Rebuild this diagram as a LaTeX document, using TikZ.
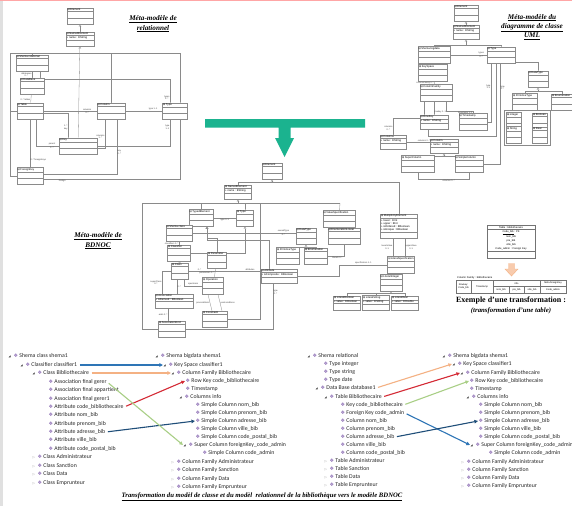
\documentclass[tikz,border=0pt]{standalone}
\usepackage{fontspec}
\setmainfont{Liberation Serif}
\newfontfamily\umlfont{Liberation Sans}
\newfontfamily\treefont{Carlito}
\newfontfamily\symfont{DejaVu Sans}
\usepackage{xcolor}
\usepackage{tikz}
\usetikzlibrary{arrows.meta,positioning,calc,fit,backgrounds,shapes.multipart}
\definecolor{umlgray}{HTML}{8A8A8A}
\definecolor{bigarrow}{HTML}{1BB38F}
\definecolor{treeicon}{HTML}{8C6DB4}
\definecolor{morange}{HTML}{F4B183}
\definecolor{mred}{HTML}{D42A35}
\definecolor{mgreen}{HTML}{A9CF86}
\definecolor{mblue}{HTML}{2E75B6}
\definecolor{mnavy}{HTML}{1F4E79}
\definecolor{peach}{HTML}{F8CBAD}
\newcommand\ci{{\symfont\char"229F}\,}
\newcommand\uc[2]{\ci#1\nodepart{two}#2\nodepart{three}}
\newcommand\trx{\makebox[5pt][l]{\symfont\fontsize{2.8}{3}\selectfont\char"25E2}}
\newcommand\trc{\makebox[5pt][l]{\textcolor{black!40}{\symfont\fontsize{3.2}{3}\selectfont\char"25B7}}}
\newcommand\tri{\textcolor{treeicon}{\symfont\fontsize{5}{5}\selectfont\char"2756}\hspace{1.4pt}}
\tikzset{
  umlc/.style={rectangle split,rectangle split parts=3,
    rectangle split ignore empty parts=false,rectangle split empty part height=1.8pt,
    rectangle split part align=left,draw=umlgray,line width=0.3pt,fill=white,
    inner sep=0.7pt,minimum width=#1,align=left,
    font=\umlfont\fontsize{2.7}{3.1}\selectfont},
  umlc/.default=24pt,
  assoc/.style={draw=umlgray,line width=0.3pt},
  gen/.style={assoc,-{Triangle[open,length=2.2pt,width=2.6pt]}},
  role/.style={font=\umlfont\fontsize{2.2}{2.5}\selectfont,inner sep=0.4pt,align=center,text=black!75},
  mtitle/.style={font=\bfseries\itshape\fontsize{7.2}{9.3}\selectfont,align=center},
  item/.style={anchor=west,inner sep=0.4pt,text=black!85,font=\treefont\fontsize{5.8}{6.5}\selectfont},
  map/.style={line width=1.1pt,-{Triangle[length=3.6pt,width=3.4pt]},shorten <=2pt},
  cell/.style={draw=black!55,line width=0.3pt,inner sep=0pt,align=center,
    font=\umlfont\fontsize{2.4}{2.8}\selectfont},
}

\begin{document}
\begin{tikzpicture}[x=1pt,y=-1pt]
  \useasboundingbox (0,0) rectangle (572,506);
  \begin{scope}[on background layer]
    \fill[white] (0,0) rectangle (572,506);
    \fill[black!12] (0,0) rectangle (2.5,506);
    \fill[red!35] (0,0) rectangle (572,1.2);
  \end{scope}

  % --- meta-model of the relational schema ---
  \node[mtitle] (tRel) at (153,24) {\underline{Méta-modèle de}\\\underline{relationnel}};
  \node[umlc=26pt] (rEl) at (80,16) {\uc{Element}{}};
  \node[umlc=28pt] (rNE) at (80,39) {\uc{NamedElement}{+ name : EString}};
  \node[umlc=32pt] (rSh) at (32,63) {\uc{Shema relational}{}};
  \node[umlc=24pt] (rDB) at (32,86) {\uc{DataBase}{}};
  \node[umlc=26pt] (rTab) at (30,111) {\uc{Table}{}};
  \node[umlc=28pt] (rCol) at (111,111) {\uc{Column}{}};
  \node[umlc=25pt] (rTy) at (175,111) {\uc{Type}{}};
  \node[umlc=38pt] (rKey) at (78,146) {\uc{Key}{}};
  \node[umlc=26pt] (rFK) at (30,176) {\uc{ForeignKey}{}};
  \coordinate (rBus) at (80,53);
  \coordinate (rBL) at (10,53);
  \coordinate (rBR) at (180,53);
  \begin{scope}[on background layer]
    \draw[gen] (rNE) -- (rEl);
    \draw[gen] (rKey) -- (rNE);
    \draw[assoc] (rBL) -- (rBR);
    \draw[assoc] (rSh) |- (rBus);
    \draw[assoc] (rCol) |- (rBus);
    \draw[assoc] (rTab.west) -| (rBL);
    \draw[assoc] (rFK.west) -| (rBL);
    \draw[assoc] (rBR) |- ([yshift=-3pt]rFK.east) node[role,pos=0.93,below]{foreign};
    \draw[assoc] (rSh) -- (rDB) node[role,pos=0.55,left]{databases\\0..*};
    \draw[assoc] (rDB) -- (rTab) node[role,pos=0.7,left]{0..* tables};
    \draw[assoc] ([xshift=8pt]rSh.south) -- ++(0,8) -| ([xshift=-5pt]rTy.north) node[role,pos=0.9,left]{types\\0..*};
    \draw[assoc] (rTab) -- (rCol) node[role,pos=0.82,above]{columns} node[role,pos=0.82,below]{0..*};
    \draw[assoc] (rCol) -- (rTy) node[role,pos=0.75,above]{type 1..1};
    \draw[assoc] ([yshift=-2pt]rTab.east) -| ([xshift=-10pt]rKey.north) node[role,pos=0.8,left]{1..*\\key};
    \draw[assoc] ([xshift=6pt]rTab.south) |- (rKey.west) node[role,pos=0.85,above]{parent} node[role,pos=0.85,below]{1..*};
    \draw[assoc] ([xshift=-6pt]rCol.south) |- ([yshift=-2pt]rKey.east) node[role,pos=0.3,left]{columns\\1..*};
    \draw[assoc] ([xshift=6pt]rCol.south) |- ([yshift=2pt]rFK.east) node[role,pos=0.3,right]{key\\0..*};
    \draw[assoc] ([xshift=-5pt]rTy.south) |- (rKey.east) node[role,pos=0.15,left]{type\\1..1};
    \draw[assoc] (rTab) -- (rFK) node[role,pos=0.85,right]{0..* foreignKeys};
  \end{scope}

  % --- meta-model of the UML class diagram ---
  \node[mtitle] (tUml) at (532,27) {\underline{Méta-modèle du}\\\underline{diagramme de classe}\\\underline{UML}};
  \node[umlc=24pt] (uEl) at (466,13) {\uc{Element}{}};
  \node[umlc=26pt] (uNE) at (466,32) {\uc{NamedElement}{+ name : EString}};
  \node[umlc=32pt] (uSh) at (434,55) {\uc{Shema bigdata}{}};
  \node[umlc=28pt] (uTy) at (501,55) {\uc{Type}{}};
  \node[umlc=29pt] (uKS) at (433,73) {\uc{KeySpace}{}};
  \node[umlc=32pt] (uCF) at (436,93) {\uc{ColumnFamily}{}};
  \node[umlc=28pt] (uRK) at (434,122) {\uc{RowKey}{+ name : EString}};
  \node[umlc=28pt] (uTS) at (473,122) {\uc{Timestamp}{}};
  \node[umlc=26pt] (uCs) at (393,142) {\uc{Columns}{+ name : EString}};
  \node[umlc=28pt] (uCo) at (444,146) {\uc{Column}{+ name : EString}};
  \node[umlc=33pt] (uSup) at (418,164) {\uc{SuperColumn}{}};
  \node[umlc=28pt] (uSim) at (469,164) {\uc{SimpleColumn}{}};
  \node[umlc=20pt] (uDT) at (538,79) {\uc{DataType}{}};
  \node[umlc=25pt] (uPT) at (525,102) {\uc{PrimitiveType}{}};
  \node[umlc=21pt] (uEn) at (562,102) {\uc{Enumeration}{}};
  \node[umlc=15pt] (uInt) at (514,121) {\uc{integer}{}};
  \node[umlc=15pt] (uBo) at (540,121) {\uc{Boolean}{}};
  \node[umlc=15pt] (uStr) at (514,135) {\uc{String}{}};
  \node[umlc=15pt] (uRe) at (540,135) {\uc{Real}{}};
  \coordinate (uBus) at (466,45);
  \coordinate (uDb) at (538,91);
  \coordinate (uCb) at (444,156);
  \begin{scope}[on background layer]
    \node[fit=(uInt)(uRe),draw=umlgray,line width=0.3pt,inner sep=2pt] (uLit) {};
    \draw[gen] (uNE) -- (uEl);
    \draw[gen] (uBus) -- (uNE);
    \draw[assoc] (uSh) |- (uBus);
    \draw[assoc] (uTy) |- (uBus);
    \draw[assoc] (uSh) -- (uTy) node[role,pos=0.85,above]{types} node[role,pos=0.85,below]{0..*};
    \draw[assoc] (uSh) -- (uKS) node[role,midway,left]{keyspaces 0..*};
    \draw[assoc] (uKS) -- (uCF) node[role,midway,left]{columnFamily 0..*};
    \draw[assoc] (uRK.north) -- (uRK.north |- uCF.south) node[role,pos=0.2,right]{rowkey 1..1};
    \draw[assoc] ([xshift=10pt]uCF.south) -- ++(0,10) -| (uTS.north) node[role,pos=0.8,left]{timestamp 1..1};
    \draw[assoc] ([xshift=-12pt]uCF.south) -- ++(0,17) -| (uCs.north) node[role,pos=0.8,left]{columns\\0..*};
    \draw[assoc] (uCs.east) -- (uCs.east -| uCo.west) node[role,pos=0.75,above]{columns 0..*};
    \draw[gen] (uCb) -- (uCo);
    \draw[assoc] (uSup) |- (uCb);
    \draw[assoc] (uSim) |- (uCb);
    \draw[assoc] (uSup.south) -- ++(0,7) -| (uSim.south) node[role,pos=0.3,below]{columns 0..*};
    \draw[assoc] ([xshift=-10pt]uTy.south) |- (uTS.east) node[role,pos=0.2,left]{type\\1..1};
    \draw[assoc] ([xshift=-5pt]uTy.south) -- ++(0,73) -| ([xshift=-6pt]uRK.south);
    \draw[assoc] ([xshift=-1pt]uTy.south) |- (uSim.east) node[role,pos=0.12,right]{type\\0..*};
    \draw[gen] (uDT.north) -- ++(0,-8) -| ([xshift=9pt]uTy.south);
    \draw[gen] (uDb) -- (uDT);
    \draw[assoc] (uPT) |- (uDb);
    \draw[assoc] (uEn) |- (uDb);
    \draw[gen] (uLit) -- (uPT);
  \end{scope}

  % --- transformation arrow ---
  \fill[bigarrow] (205,119) -- (365,119) -- (365,127.5) -- (290.5,127.5) -- (290.5,138)
    -- (294,138) -- (284.5,157) -- (275,138) -- (278.5,138) -- (278.5,127.5) -- (205,127.5) -- cycle;

  % --- meta-model of BDNOC ---
  \node[mtitle] (tBd) at (98,241) {\underline{Méta-modèle de}\\\underline{BDNOC}};
  \node[umlc=20pt] (bEl) at (272,171) {\uc{Element}{}};
  \node[umlc=27pt] (bNE) at (238,192) {\uc{NamedElement}{+ name : EString}};
  \node[umlc=24pt] (bTE) at (201,218) {\uc{TypedElement}{}};
  \node[umlc=17pt] (bTy) at (245,218) {\uc{Type}{}};
  \node[umlc=32pt] (bVS) at (339,219) {\uc{ValueSpecification}{}};
  \node[umlc=26pt] (bSh) at (179,233) {\uc{Shema class}{}};
  \node[umlc=20pt] (bDT) at (306,236) {\uc{DataType}{}};
  \node[umlc=32pt] (bEL) at (344,236) {\uc{EnumerationLiteral}{}};
  \node[umlc=23pt] (bCl) at (179,253) {\uc{Classifier}{}};
  \node[umlc=23pt] (bPT) at (288,256) {\uc{PrimitiveType}{}};
  \node[umlc=23pt] (bEn) at (316,256) {\uc{Enumeration}{}};
  \node[umlc=19pt] (bPa) at (217,260) {\uc{Parameter}{}};
  \node[umlc=17pt] (bCla) at (180,271) {\uc{Class}{}};
  \node[umlc=36pt] (bAt) at (279,276) {\uc{Attribute}{+ isComposite : EBoolean}};
  \node[umlc=21pt] (bOp) at (213,286) {\uc{Operation}{}};
  \node[umlc=38pt] (bAs) at (174,301) {\uc{Association}{+ isDerived : EBoolean}};
  \node[umlc=25pt] (bCo) at (215,319) {\uc{Constraint}{}};
  \node[umlc=27pt] (bAE) at (172,329) {\uc{AssociationEnd}{}};
  \node[umlc=37pt] (bME) at (399,226) {\uc{MultiplicityElement}{+ lower : EInt\\+ upper : EInt\\+ isOrdered : EBoolean\\+ isUnique : EBoolean}};
  \node[umlc=22pt] (bLS) at (401,265) {\uc{LiteralSpecification}{}};
  \node[umlc=22pt] (bIL) at (391,283) {\uc{LiteralInteger}{}};
  \node[umlc=27pt] (bLB) at (347,303) {\uc{LiteralBoolean}{+ value : EBoolean}};
  \node[umlc=27pt] (bLSt) at (376,303) {\uc{LiteralString}{+ value : EString}};
  \node[umlc=27pt] (bLI) at (405,303) {\uc{LiteralReal}{+ value : EDouble}};
  \coordinate (bTop) at (272,182);
  \coordinate (bBus) at (238,203);
  \coordinate (bL) at (142,203);
  \coordinate (bR) at (340,203);
  \coordinate (bV) at (260,203);
  \coordinate (bDb) at (306,247);
  \coordinate (bLb) at (391,293);
  \begin{scope}[on background layer]
    \draw[gen] (bTop) -- (bEl);
    \draw[assoc] (bNE) |- (bTop);
    \draw[assoc] (bME) |- (bTop);
    \draw[gen] (bBus) -- (bNE);
    \draw[assoc] (bL) -- (bR);
    \draw[assoc] (bR) -- (bVS);
    \draw[assoc] (bTE) |- (bBus);
    \draw[assoc] (bTy) |- (bBus);
    \draw[assoc] (bL) |- (bAE.west);
    \draw[assoc] (bV) |- (bCo.east);
    \draw[assoc] (bTE) -- (bTy) node[role,midway,below]{type 0..1};
    \draw[gen] (bCl.east) -| (bTy);
    \draw[gen] (bPa.north) -- ++(0,-14) -| ([xshift=6pt]bTE.south);
    \draw[gen] ([xshift=-10pt]bAt.north) -- ++(0,-29) -| ([xshift=6pt]bTE.south);
    \draw[assoc] (bSh.east) -- (bSh.east -| bDT.west) node[role,pos=0.88,above]{ownedType} node[role,pos=0.88,below]{0..*};
    \draw[gen] (bDb) -- (bDT);
    \draw[assoc] (bPT) |- (bDb);
    \draw[assoc] (bEn) |- (bDb);
    \draw[gen] (bEL) -- (bVS);
    \draw[assoc] (bEL.south) |- (bEn.east) node[role,pos=0.7,below]{literals 0..*};
    \draw[assoc] (bSh) -- (bCl) node[role,pos=0.6,left]{classifiers 0..*};
    \draw[gen] (bCla) -- (bCl);
    \draw[assoc] (bCla.east) -- (bCla.east -| bAt.west) node[role,pos=0.15,above]{0..*} node[role,pos=0.85,above]{attributes};
    \draw[assoc] ([xshift=4pt]bCla.south) |- (bOp.west) node[role,pos=0.75,above]{operations};
    \draw[assoc] (bOp) -- (bPa) node[role,midway,left]{parameters 0..*};
    \draw[assoc] ([xshift=-5pt]bOp.south) -- ([xshift=-3pt]bCo.north) node[role,pos=0.5,left]{preconditions};
    \draw[assoc] ([xshift=5pt]bOp.south) -- ([xshift=7pt]bCo.north) node[role,pos=0.5,right]{postconditions};
    \draw[assoc] ([xshift=-3pt]bCla.south) -- ([xshift=3pt]bAs.north) node[role,pos=0.5,right]{0..*};
    \draw[assoc] (bCla.west) -| ([xshift=-12pt]bAs.north) node[role,pos=0.75,left]{superClass\\0..*};
    \draw[assoc] ([xshift=-6pt]bAs.south) -- ([xshift=-4pt]bAE.north) node[role,pos=0.5,left]{ends 2..*};
    \draw[assoc] (bAE.east) -| ([xshift=-6pt]bAt.south) node[role,pos=0.9,right]{type\\0..*};
    \draw[assoc] (bAt.east) -- ++(42,0) |- (bLS.west) node[role,pos=0.75,above]{specification 1..1};
    \draw[assoc] ([xshift=-6pt]bME.south) -- ([xshift=-8pt]bLS.north) node[role,pos=0.5,left]{lowerValue\\0..1};
    \draw[assoc] ([xshift=6pt]bME.south) -- ([xshift=4pt]bLS.north) node[role,pos=0.5,right]{upperValue\\0..1};
    \draw[gen] (bIL.north) -- (bIL.north |- bLS.south);
    \draw[gen] (bLb) -- (bIL);
    \draw[assoc] (bLB) |- (bLb);
    \draw[assoc] (bLSt) |- (bLb);
    \draw[assoc] (bLI) |- (bLb);
  \end{scope}

  % --- example: one table ---
  \node[rectangle split,rectangle split parts=3,rectangle split ignore empty parts=false,
    rectangle split empty part height=3pt,draw=black!55,line width=0.3pt,fill=white,
    minimum width=48pt,inner sep=1pt,align=center,anchor=north,
    font=\umlfont\fontsize{2.6}{3.9}\selectfont] (exTab) at (511,225)
    {Table : bibliothecaire\nodepart{two}\underline{Code\_bib} : PK\\nom\_bib\\pre\_bib\\ville\_bib\\Code\_admin : Foreign Key\nodepart{three}};
  \filldraw[fill=peach,draw=morange,line width=0.4pt] (508.5,263.5) -- (514.5,263.5) -- (514.5,269)
    -- (518,269) -- (511.5,276) -- (505,269) -- (508.5,269) -- cycle;
  \node[anchor=west,inner sep=0pt,font=\umlfont\fontsize{2.6}{3}\selectfont] (cfLab) at (457,277.5) {Column Family : bibliothecaire};
  \node[cell,minimum width=15pt,minimum height=13pt] (cRk) at (463.5,286.5) {Rowkey:\\Code\_bib};
  \node[cell,minimum width=22pt,minimum height=13pt] (cTs) at (482,286.5) {Timestamp};
  \node[cell,minimum width=47pt,minimum height=6.5pt] (cInfo) at (516.5,283.25) {info};
  \node[cell,minimum width=26pt,minimum height=6.5pt] (cSup) at (553,283.25) {Méta foreignKey};
  \node[cell,minimum width=16pt,minimum height=6.5pt] (cNom) at (501,289.75) {nom\_bib};
  \node[cell,minimum width=15pt,minimum height=6.5pt] (cPre) at (516.5,289.75) {pre\_bib};
  \node[cell,minimum width=16pt,minimum height=6.5pt] (cVil) at (532,289.75) {ville\_bib};
  \node[cell,minimum width=26pt,minimum height=6.5pt] (cAdm) at (553,289.75) {Code\_admin};
  \node[font=\bfseries\fontsize{8}{9}\selectfont] (exT1) at (511,300.5) {Exemple d'une transformation :};
  \node[font=\bfseries\itshape\fontsize{6.8}{8}\selectfont] (exT2) at (511,311) {(transformation d'une table)};

  % --- class model -> BDNOC (trees) ---
  \foreach \n/\x/\y/\txt in {
    a/8/356/{\trx\tri Shema class shema1},
    b/20/365/{\trx\tri Classifier classifier1},
    c/32/373/{\trx\tri Class Bibliothecaire},
    d/48/382/{\tri Association final gerer},
    e/48/390/{\tri Association final appartient},
    f/48/399/{\tri Association final gerer1},
    g/48/407/{\tri Attribute code\_bibliothecaire},
    h/48/415/{\tri Attribute nom\_bib},
    i/48/424/{\tri Attribute prenom\_bib},
    j/48/432/{\tri Attribute adresse\_bib},
    k/48/440/{\tri Attribute ville\_bib},
    l/48/449/{\tri Attribute code\_postal\_bib},
    m/32/457/{\trc\tri Class Administrateur},
    n/32/466/{\trc\tri Class Sanction},
    o/32/474/{\trc\tri Class Data},
    p/32/483/{\trc\tri Class Emprunteur}}
    \node[item] (L1\n) at (\x,\y) {\txt};
  \foreach \n/\x/\y/\txt in {
    a/155/356/{\trx\tri Shema bigdata shema1},
    b/163/365/{\trx\tri Key Space classifier1},
    c/171/373/{\trx\tri Column Family Bibliothecaire},
    d/185/381/{\tri Row Key code\_bibliothecaire},
    e/185/389/{\tri Timestamp},
    f/179/397/{\trx\tri Columns info},
    g/195/405/{\tri Simple Column nom\_bib},
    h/195/413/{\tri Simple Column prenom\_bib},
    i/195/421/{\tri Simple Column adresse\_bib},
    j/195/429/{\tri Simple Column ville\_bib},
    k/195/437/{\tri Simple Column code\_postal\_bib},
    l/183/445/{\trx\tri Super Column foreignKey\_code\_admin},
    m/202/453/{\tri Simple Column code\_admin},
    n/171/462/{\trc\tri Column Family Administrateur},
    o/171/470/{\trc\tri Column Family Sanction},
    p/171/479/{\trc\tri Column Family Data},
    q/171/487/{\trc\tri Column Family Emprunteur}}
    \node[item] (R1\n) at (\x,\y) {\txt};
  \draw[map,mblue] (L1b.east) -- (R1b.west);
  \draw[map,morange] (L1c.east) -- (R1c.west);
  \draw[map,mred] (L1g.east) -- (R1d.west);
  \draw[map,mnavy] (L1j.east) -- (R1i.west);
  \draw[map,mgreen] (L1d.east) -- (R1l.west);

  % --- relational model -> BDNOC (trees) ---
  \foreach \n/\x/\y/\txt in {
    a/307/356/{\trx\tri Shema relational},
    b/323/364/{\tri Type integer},
    c/323/372/{\tri Type string},
    d/323/380/{\tri Type date},
    e/315/388/{\trx\tri Data Base database1},
    f/324/397/{\trx\tri Table Bibliothecaire},
    g/340/405/{\tri Key code\_bibliothecaire},
    h/340/413/{\tri Foreign Key code\_admin},
    i/340/421/{\tri Column nom\_bib},
    j/340/429/{\tri Column prenom\_bib},
    k/340/437/{\tri Column adresse\_bib},
    l/340/445/{\tri Column ville\_bib},
    m/340/453/{\tri Column code\_postal\_bib},
    n/324/461/{\trc\tri Table Administrateur},
    o/324/469/{\trc\tri Table Sanction},
    p/324/477/{\trc\tri Table Data},
    q/324/485/{\trc\tri Table Emprunteur}}
    \node[item] (L2\n) at (\x,\y) {\txt};
  \foreach \n/\x/\y/\txt in {
    a/442/356/{\trx\tri Shema bigdata shema1},
    b/452/364/{\trx\tri Key Space classifier1},
    c/460/373/{\trx\tri Column Family Bibliothecaire},
    d/469/381/{\tri Row Key code\_bibliothecaire},
    e/469/389/{\tri Timestamp},
    f/466/397/{\trx\tri Columns info},
    g/478/405/{\tri Simple Column nom\_bib},
    h/478/413/{\tri Simple Column prenom\_bib},
    i/478/421/{\tri Simple Column adresse\_bib},
    j/478/429/{\tri Simple Column ville\_bib},
    k/478/437/{\tri Simple Column code\_postal\_bib},
    l/470/445/{\trx\tri Super Column foreignKey\_code\_admin},
    m/488/453/{\tri Simple Column code\_admin},
    n/461/462/{\trc\tri Column Family Administrateur},
    o/461/470/{\trc\tri Column Family Sanction},
    p/461/478/{\trc\tri Column Family Data},
    q/461/486/{\trc\tri Column Family Emprunteur}}
    \node[item] (R2\n) at (\x,\y) {\txt};
  \draw[map,morange] (L2e.east) -- (R2b.west);
  \draw[map,mred] (L2f.east) -- (R2c.west);
  \draw[map,mgreen] (L2g.east) -- (R2d.west);
  \draw[map,mblue] (L2h.east) -- (R2l.west);
  \draw[map,mnavy] (L2k.east) -- (R2i.west);

  \node[font=\bfseries\itshape\fontsize{6.7}{7.5}\selectfont] (cap) at (262,497)
    {\underline{Transformation du modèl de classe et du modèl\ \ relationnel de la bibliothèque vers le modèle BDNOC}};
\end{tikzpicture}
\end{document}
